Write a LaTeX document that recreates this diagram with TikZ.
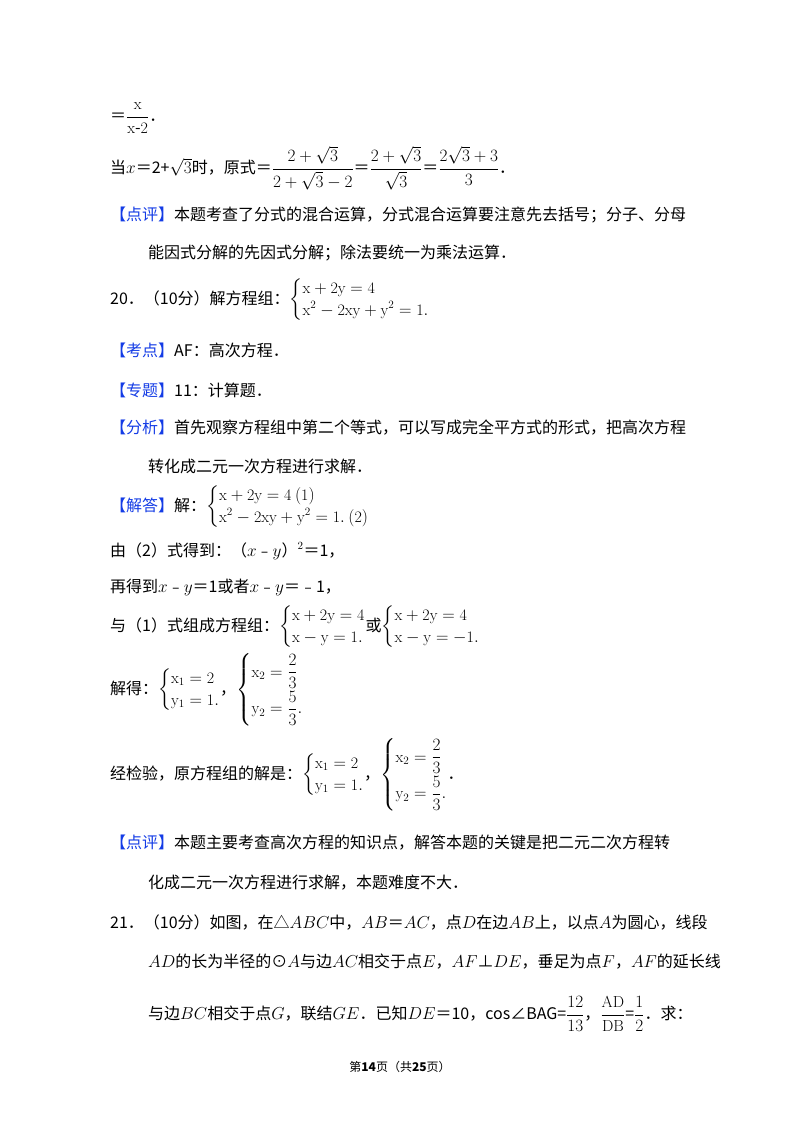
\documentclass[tikz,border=0pt]{standalone}
\usepackage{amsmath}
\usepackage{fontspec}
\newfontfamily\cjk{Noto Sans CJK SC}
\definecolor{tagblue}{RGB}{20,60,230}
\newcommand{\tagb}[1]{{\color{tagblue}【#1】}}
\newcommand{\sysb}[2]{$\left\{\begin{array}{@{}l@{}}\mathrm{#1}\\[2pt] \mathrm{#2}\end{array}\right.$}
\begin{document}
\begin{tikzpicture}[x=1pt,y=-1pt,
  txt/.style={anchor=west,inner sep=0pt,font=\cjk\fontsize{16}{20}\selectfont}]
  \useasboundingbox[fill=white] (0,0) rectangle (800,1132);

  \node[txt] (l1) at (110,118) {＝$\dfrac{\mathrm{x}}{\mathrm{x\text{-}2}}$．};
  \node[txt] (l2) at (110,168) {当$x$＝2+$\sqrt{3}$时，原式＝$\dfrac{2+\sqrt{3}}{2+\sqrt{3}-2}$＝$\dfrac{2+\sqrt{3}}{\sqrt{3}}$＝$\dfrac{2\sqrt{3}+3}{3}$．};
  \node[txt] (l3) at (110,215) {\tagb{点评}本题考查了分式的混合运算，分式混合运算要注意先去括号；分子、分母};
  \node[txt] (l4) at (148,253) {能因式分解的先因式分解；除法要统一为乘法运算．};
  \node[txt] (l5) at (110,300) {20．（10分）解方程组：\sysb{x+2y=4}{x^2-2xy+y^2=1.}};
  \node[txt] (l6) at (110,350) {\tagb{考点}AF：高次方程．};
  \node[txt] (l7) at (110,390) {\tagb{专题}11：计算题．};
  \node[txt] (l8) at (110,428) {\tagb{分析}首先观察方程组中第二个等式，可以写成完全平方式的形式，把高次方程};
  \node[txt] (l9) at (148,466) {转化成二元一次方程进行求解．};
  \node[txt] (l10) at (110,507) {\tagb{解答}解：\sysb{x+2y=4\ (1)}{x^2-2xy+y^2=1.\ (2)}};
  \node[txt] (l11) at (110,551) {由（2）式得到：（$x$﹣$y$）$^2$＝1，};
  \node[txt] (l12) at (110,587) {再得到$x$﹣$y$＝1或者$x$﹣$y$＝﹣1，};
  \node[txt] (l13) at (110,627) {与（1）式组成方程组：\sysb{x+2y=4}{x-y=1.}或\sysb{x+2y=4}{x-y=-1.}};
  \node[txt] (l14) at (110,690) {解得：\sysb{x_1=2}{y_1=1.}，$\left\{\begin{array}{@{}l@{}}\mathrm{x_2}=\dfrac{2}{3}\\[8pt] \mathrm{y_2}=\dfrac{5}{3}.\end{array}\right.$};
  \node[txt] (l15) at (110,775) {经检验，原方程组的解是：\sysb{x_1=2}{y_1=1.}，$\left\{\begin{array}{@{}l@{}}\mathrm{x_2}=\dfrac{2}{3}\\[8pt] \mathrm{y_2}=\dfrac{5}{3}.\end{array}\right.$．};
  \node[txt] (l16) at (110,843) {\tagb{点评}本题主要考查高次方程的知识点，解答本题的关键是把二元二次方程转};
  \node[txt] (l17) at (148,883) {化成二元一次方程进行求解，本题难度不大．};
  \node[txt] (l18) at (110,922) {21．（10分）如图，在△$ABC$中，$AB$＝$AC$，点$D$在边$AB$上，以点$A$为圆心，线段};
  \node[txt] (l19) at (148,962) {$AD$的长为半径的⊙$A$与边$AC$相交于点$E$，$AF$⊥$DE$，垂足为点$F$，$AF$的延长线};
  \node[txt] (l20) at (148,1014) {与边$BC$相交于点$G$，联结$GE$．已知$DE$＝10，cos∠BAG=$\dfrac{12}{13}$，$\dfrac{\mathrm{AD}}{\mathrm{DB}}$=$\dfrac{1}{2}$．求：};
  \node[txt,anchor=center,font=\cjk\fontsize{12}{14}\selectfont] (foot) at (400,1067) {第\textbf{14}页（共\textbf{25}页）};
\end{tikzpicture}
\end{document}
